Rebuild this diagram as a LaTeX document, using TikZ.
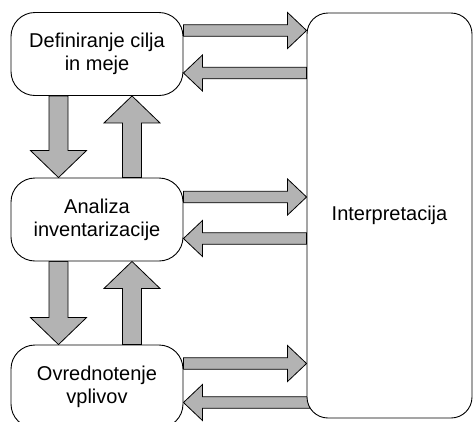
\documentclass[tikz,border=0pt]{standalone}
\usepackage{fontspec}
\setmainfont{Liberation Sans}
\usetikzlibrary{calc,backgrounds}
\definecolor{arrgray}{RGB}{179,179,179}
\tikzset{
  stagebox/.style={draw, line width=0.9pt, fill=white, rounded corners=24pt,
    minimum width=172pt, minimum height=83pt, align=center, inner sep=0pt,
    font=\fontsize{20}{23}\selectfont},
  fat/.style={draw, line width=0.8pt, fill=arrgray, line join=miter},
}
\newcommand\hfat[2]{\draw[fat] let \p1=(#1), \p2=(#2), \p3=($(#2)!19pt!(#1)$) in
  (\x1,\y1+5.75pt) -- (\x3,\y1+5.75pt) -- (\x3,\y1+18pt) -- (\x2,\y2) --
  (\x3,\y1-18pt) -- (\x3,\y1-5.75pt) -- (\x1,\y1-5.75pt) -- cycle;}
\newcommand\vfat[2]{\draw[fat] let \p1=(#1), \p2=(#2), \p3=($(#2)!27pt!(#1)$) in
  (\x1+9.5pt,\y1) -- (\x1+9.5pt,\y3) -- (\x1+28pt,\y3) -- (\x2,\y2) --
  (\x1-28pt,\y3) -- (\x1-9.5pt,\y3) -- (\x1-9.5pt,\y1) -- cycle;}
\begin{document}
\begin{tikzpicture}[x=1pt,y=-1pt]
\useasboundingbox (0,0) rectangle (473,421);
\clip (0,0) rectangle (473,421);
\node[stagebox] (b1) at (97,54) {Definiranje cilja\\in meje};
\node[stagebox] (b2) at (97,219.5) {Analiza\\inventarizacije};
\node[stagebox] (b3) at (97,386.5) {Ovrednotenje\\vplivov};
\node[stagebox, rounded corners=21pt, minimum width=165pt, minimum height=405pt] (ip) at (389.5,215.5) {Interpretacija};
\coordinate (r1a) at (b1.east |- 0,30.5);  \coordinate (r1b) at (ip.west |- 0,30.5);
\coordinate (l1a) at (ip.west |- 0,73);    \coordinate (l1b) at (b1.east |- 0,73);
\coordinate (r2a) at (b2.east |- 0,197);   \coordinate (r2b) at (ip.west |- 0,197);
\coordinate (l2a) at (ip.west |- 0,238.5); \coordinate (l2b) at (b2.east |- 0,238.5);
\coordinate (r3a) at (b3.east |- 0,363.5); \coordinate (r3b) at (ip.west |- 0,363.5);
\coordinate (l3a) at ([xshift=3pt]ip.west |- 0,402.5); \coordinate (l3b) at (b3.east |- 0,402.5);
\coordinate (d1a) at (58.5,0 |- b1.south); \coordinate (d1b) at (58.5,0 |- b2.north);
\coordinate (u1a) at (132,0 |- b2.north);  \coordinate (u1b) at (132,0 |- b1.south);
\coordinate (d2a) at (58.5,0 |- b2.south); \coordinate (d2b) at (58.5,0 |- b3.north);
\coordinate (u2a) at (132,0 |- b3.north);  \coordinate (u2b) at (132,0 |- b2.south);
\begin{scope}[on background layer]
\hfat{r1a}{r1b}
\hfat{l1a}{l1b}
\hfat{r2a}{r2b}
\hfat{l2a}{l2b}
\hfat{r3a}{r3b}
\hfat{l3a}{l3b}
\vfat{d1a}{d1b}
\vfat{u1a}{u1b}
\vfat{d2a}{d2b}
\vfat{u2a}{u2b}
\end{scope}
\end{tikzpicture}
\end{document}
